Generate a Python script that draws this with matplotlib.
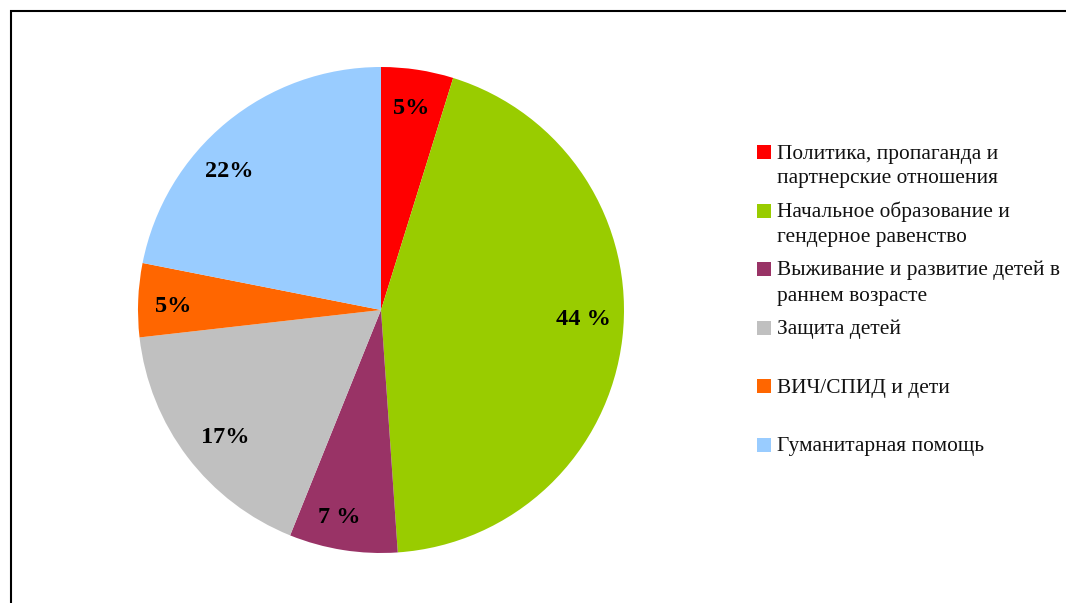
import matplotlib
matplotlib.use("Agg")
import matplotlib.pyplot as plt
from matplotlib.patches import Rectangle

plt.rcParams['font.family'] = ['Liberation Serif', 'DejaVu Serif']

# shares by programme area, clockwise from the top
categories = ['Политика, пропаганда и\nпартнерские отношения',
              'Начальное образование и\nгендерное равенство',
              'Выживание и развитие детей в\nраннем возрасте',
              'Защита детей',
              'ВИЧ/СПИД и дети',
              'Гуманитарная помощь']
shares = [4.8, 44.1, 7.2, 17.1, 4.9, 21.9]
pct_labels = ['5%', '44 %', '7 %', '17%', '5%', '22%']
colors = ['#FF0000', '#99CC00', '#993366', '#C0C0C0', '#FF6600', '#99CCFF']

# small nudges of the percent labels (axes units, radius = 1)
label_nudge = [(0.0, 0.0), (0.0, 0.058), (-0.041, -0.025),
               (0.029, -0.016), (-0.016, -0.021), (-0.09, -0.078)]

W, H = 1066, 603
fig = plt.figure(figsize=(W / 100, H / 100), dpi=100)

# pie centre (381, 310) px, radius 243 px
cx, cy, rad = 381, 310, 243
ax = fig.add_axes([(cx - rad) / W, (H - cy - rad) / H, 2 * rad / W, 2 * rad / H])
wedges, texts, autotexts = ax.pie(shares, colors=colors, startangle=90,
                                  counterclock=False, radius=1.0,
                                  autopct='%1.0f%%', pctdistance=0.84,
                                  wedgeprops=dict(linewidth=0))
for t, lab, (nx, ny) in zip(autotexts, pct_labels, label_nudge):
    t.set_text(lab)
    t.set_fontsize(17.5)
    t.set_fontweight('bold')
    t.set_color('black')
    x, y = t.get_position()
    t.set_position((x + nx, y + ny))
ax.set_xlim(-1, 1)
ax.set_ylim(-1, 1)
ax.set_aspect('equal')
ax.axis('off')

# legend, drawn by hand so the square sits on the first line
lx, ly0, step, line_h = 757, 158.5, 58.5, 25
for i, (lab, col) in enumerate(zip(categories, colors)):
    base = ly0 + i * step
    fig.add_artist(Rectangle((lx / W, 1 - (base + 0.5) / H), 14 / W, 14 / H,
                             transform=fig.transFigure, facecolor=col,
                             edgecolor='none'))
    for k, line in enumerate(lab.split('\n')):
        fig.text(777 / W, 1 - (base + k * line_h) / H, line, fontsize=15.4,
                 va='baseline', ha='left', color='#111111')

# chart area border (right and bottom edges run off the image)
fig.add_artist(Rectangle((10.5 / W, -0.1), 1.2, 1.1 - 11.5 / H,
                         transform=fig.transFigure, fill=False,
                         edgecolor='black', linewidth=1.5))

fig.savefig('out.png', dpi=100)
